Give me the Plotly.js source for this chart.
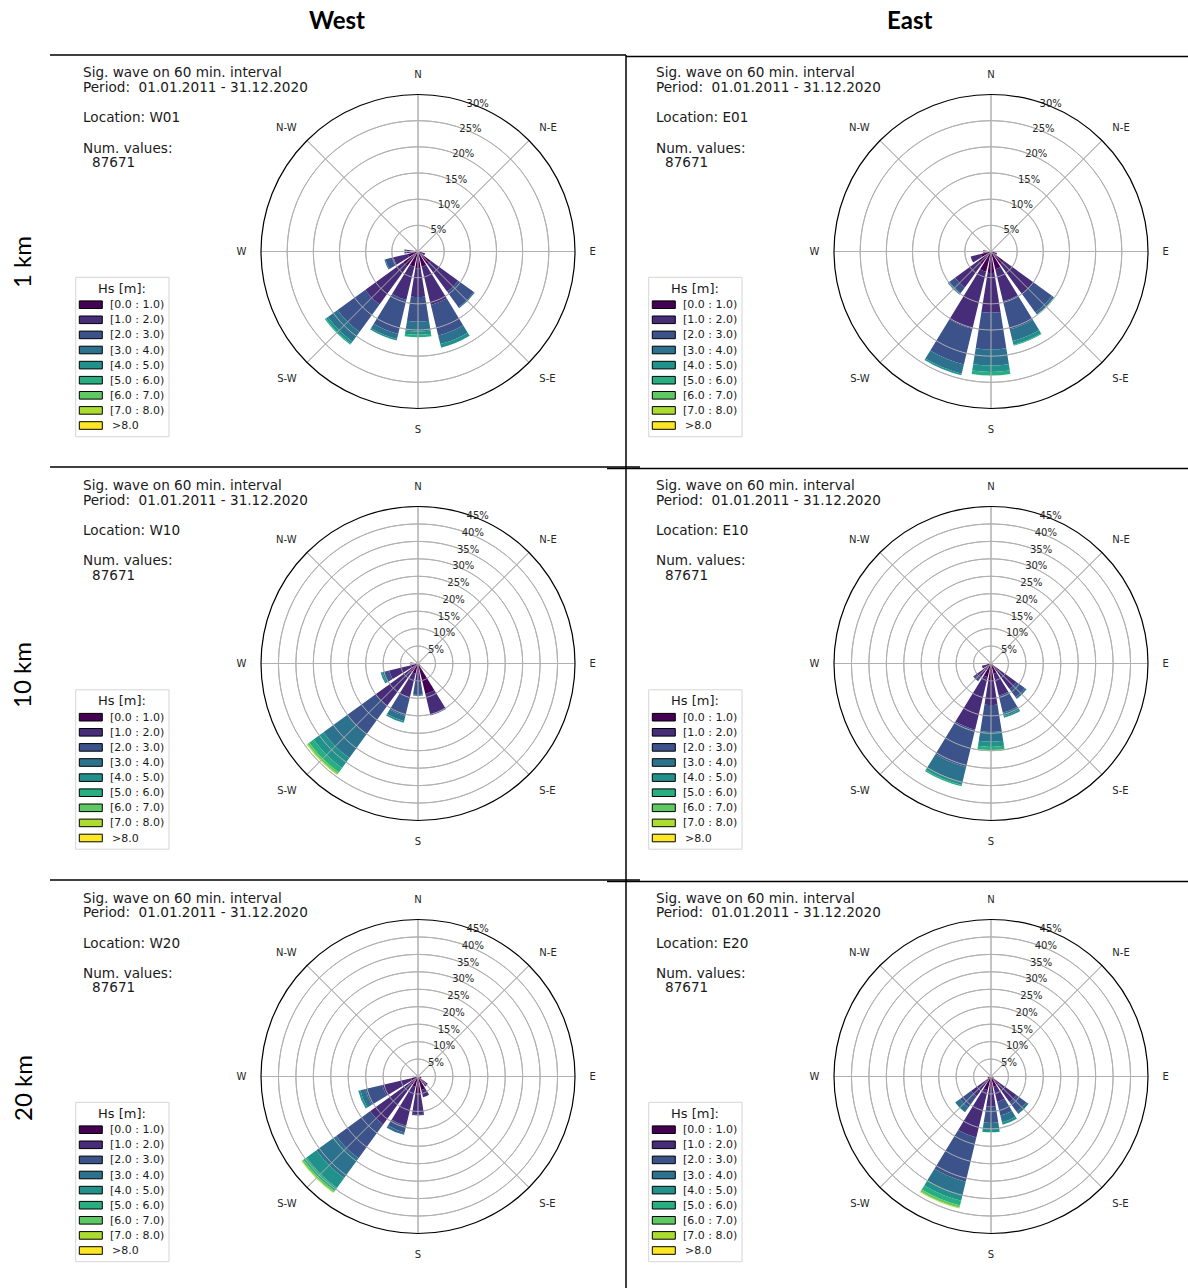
<!DOCTYPE html>
<html><head><meta charset="utf-8">
<script src="https://cdn.plot.ly/plotly-3.0.1.min.js"></script>
<style>html,body{margin:0;padding:0;background:#fff}#chart{width:1188px;height:1288px}</style>
</head><body><div id="chart"></div>
<script>
// ---------- data ----------
const sectorAngles = [0,22.5,45,67.5,90,112.5,135,157.5,180,202.5,225,247.5,270,292.5,315,337.5];
const sectorNames = ['N','NNE','NE','ENE','E','ESE','SE','SSE','S','SSW','SW','WSW','W','WNW','NW','NNW'];
const hsBins = ['[0.0 : 1.0)','[1.0 : 2.0)','[2.0 : 3.0)','[3.0 : 4.0)','[4.0 : 5.0)','[5.0 : 6.0)','[6.0 : 7.0)','[7.0 : 8.0)','>8.0'];
const hsColors = ['#440154','#472c7a','#3b528b','#2c728e','#21918c','#28ae80','#5ec962','#addc30','#fde725'];
const compassVals = [0,45,90,135,180,225,270,315];
const compassText = ['N','N-E','E','S-E','S','S-W','W','N-W'];
const columnNames = ['West','East'];
const rowNames = ['1 km','10 km','20 km'];
const locations = ['W01','E01','W10','E10','W20','E20'];
const numValues = [87671,87671,87671,87671,87671,87671];
const rMax = [30,30,45,45,45,45];
const rTicks30 = [5,10,15,20,25,30];
const rTicks45 = [5,10,15,20,25,30,35,40,45];

// cumulative frequency (%) at the top of each Hs bin, per sector (N first, clockwise)
const W01 = [[],[],[],[],[0.3],[0.8,1.4],[3.0,9.5,13.2,13.4],[3.0,10.5,16.5,18.2,18.9],[3.2,8.7,13.4,15.3,15.9,16.4],[3.0,9.5,16.2,17.2,17.5],[3.5,12.5,19.0,21.3,21.8,22.0],[2.0,4.8,6.4,6.6],[1.2,2.2,2.6],[0.5],[0.2],[0.2]];
const E01 = [[],[],[],[],[0.3],[0.8,1.2],[3.0,10.0,14.4,14.9],[3.5,9.8,15.3,17.6,18.3,18.5],[4.1,11.7,18.7,21.8,23.0,23.7],[4.0,15.2,22.2,24.0,24.3],[3.0,8.5,9.8,10.2],[2.0,4.0],[1.5],[0.3],[],[]];
const W10 = [[],[],[],[],[0.3],[0.5],[0.8],[9.0,15.0,15.3],[3.0,5.3,9.0,9.3],[3.0,10.0,15.5,17.0,17.5],[3.0,15.0,25.0,33.5,37.0,38.6,39.2,39.5],[2.0,8.5,10.0,10.5,11.0],[1.5,2.2],[0.5],[],[]];
const E10 = [[],[],[],[],[0.3],[0.5],[3.0,9.0,12.0,12.6],[3.0,9.5,14.5,15.5,16.0],[5.3,11.9,19.6,22.4,23.9,24.8,25.1],[4.0,19.5,30.5,35.0,35.8,36.2],[2.5,5.5,6.3],[1.5,2.7],[1.0],[],[],[]];
const W20 = [[],[],[],[],[0.3],[1.0],[2.5,3.5],[4.0,6.1],[5.0,10.8,11.2],[3.0,14.5,16.5,17.2],[3.0,17.0,29.0,36.0,39.5,40.6,41.1,41.3],[2.0,10.5,15.5,17.0,17.6],[1.5],[0.5],[],[]];
const E20 = [[],[],[],[],[0.3],[0.8],[3.0,9.0,12.5,13.3],[3.0,7.5,11.5,13.5,14.2],[3.0,8.6,13.3,15.0,16.0],[4.0,18.0,31.0,35.0,36.6,38.0,38.7,38.9],[2.0,7.0,11.0,12.7],[1.0],[0.8],[],[],[]];
const panelData = [W01,E01,W10,E10,W20,E20];

// ---------- layout geometry ----------
const W = 1188, H = 1288;
const colX = [418, 991];
const rowY = [251.5, 663.5, 1076.5];
const R = 157;
const colDX = [0, 573];
const rowDY = [0, 412.5, 825];
const px = x => x / W;
const py = y => 1 - y / H;
const txtFont = 'DejaVu Sans, Liberation Sans, sans-serif';
const gridCol = '#b0b0b0';

const traces = [];
const layout = {
  width: W, height: H,
  margin: {l:0, r:0, t:0, b:0},
  paper_bgcolor: '#fff',
  showlegend: false,
  font: {family: txtFont, color: '#1a1a1a'},
  annotations: [],
  shapes: []
};

function topAt(tops, b) {
  if (!tops.length) return 0;
  return b < tops.length ? tops[b] : tops[tops.length - 1];
}

panelData.forEach((data, i) => {
  const row = Math.floor(i / 2), col = i % 2;
  const key = i === 0 ? 'polar' : 'polar' + (i + 1);
  const cx = colX[col], cy = rowY[row];
  const ticks = rMax[i] === 30 ? rTicks30 : rTicks45;

  for (let b = 0; b < hsBins.length; b++) {
    const r = data.map(tops => +(topAt(tops, b) - (b ? topAt(tops, b - 1) : 0)).toFixed(3));
    traces.push({
      type: 'barpolar', subplot: key, name: hsBins[b],
      r: r, theta: sectorAngles, width: 18,
      marker: {color: hsColors[b], line: {width: 0}},
      hoverinfo: 'skip', showlegend: false
    });
  }
  // grid drawn above the bars (as in the original)
  const circTheta = [];
  for (let a = 0; a <= 360; a += 2) circTheta.push(a);
  ticks.filter(t => t < rMax[i]).forEach(t => {
    traces.push({type: 'scatterpolar', subplot: key, mode: 'lines',
      r: circTheta.map(() => t), theta: circTheta,
      line: {color: gridCol, width: 1}, hoverinfo: 'skip', showlegend: false});
  });
  const sr = [], st = [];
  compassVals.forEach(a => { sr.push(0, rMax[i], null); st.push(a, a, null); });
  traces.push({type: 'scatterpolar', subplot: key, mode: 'lines', r: sr, theta: st,
    line: {color: gridCol, width: 1}, hoverinfo: 'skip', showlegend: false, connectgaps: false});

  layout[key] = {
    domain: {x: [px(cx - R), px(cx + R)], y: [py(cy + R), py(cy - R)]},
    bgcolor: '#fff',
    barmode: 'stack', bargap: 0,
    angularaxis: {
      rotation: 90, direction: 'clockwise', thetaunit: 'degrees',
      tickmode: 'array', tickvals: compassVals, ticktext: compassText,
      showgrid: true, gridcolor: gridCol, gridwidth: 1,
      showline: true, linecolor: '#000', linewidth: 1.2,
      ticks: 'outside', ticklen: 12, tickcolor: 'rgba(0,0,0,0)',
      tickfont: {family: txtFont, size: 10, color: '#262626'}
    },
    radialaxis: {
      range: [0, rMax[i]], autorange: false,
      tickmode: 'array', tickvals: ticks, ticktext: ticks.map(t => t + '%'),
      angle: 74, tickangle: 74, side: 'clockwise',
      showline: false, ticks: '',
      showgrid: true, gridcolor: gridCol, gridwidth: 1,
      tickfont: {family: txtFont, size: 10, color: '#262626'}
    }
  };

  // text block
  const dx = colDX[col], dy = rowDY[row];
  const lines = [
    ['Sig. wave on 60 min. interval', 81, 72.5],
    ['Period:&nbsp; 01.01.2011 - 31.12.2020', 81, 87],
    ['Location: ' + locations[i], 81, 117.5],
    ['Num. values:', 81, 147.5],
    [String(numValues[i]), 90, 162.5]
  ];
  lines.forEach(([t, x, y]) => layout.annotations.push({
    xref: 'paper', yref: 'paper', x: px(x + dx), y: py(y + dy), text: t,
    showarrow: false, xanchor: 'left', yanchor: 'middle',
    font: {family: txtFont, size: 13.6, color: '#1a1a1a'}
  }));

  // legend box
  layout.shapes.push({type: 'rect', xref: 'paper', yref: 'paper',
    x0: px(75.7 + dx), x1: px(169 + dx), y0: py(277.3 + dy), y1: py(436.7 + dy),
    line: {color: '#d5d5d5', width: 1}, fillcolor: '#fff'});
  layout.annotations.push({xref: 'paper', yref: 'paper', x: px(122 + dx), y: py(288 + dy),
    text: 'Hs [m]:', showarrow: false, xanchor: 'center', yanchor: 'middle',
    font: {family: txtFont, size: 13, color: '#1a1a1a'}});
  hsBins.forEach((lab, b) => {
    const yc = 304.7 + b * 15.1 + dy;
    layout.shapes.push({type: 'rect', xref: 'paper', yref: 'paper',
      x0: px(79.3 + dx), x1: px(102.3 + dx), y0: py(yc + 3.8), y1: py(yc - 3.8),
      line: {color: '#000', width: 1}, fillcolor: hsColors[b]});
    layout.annotations.push({xref: 'paper', yref: 'paper',
      x: px((b === 8 ? 109.5 : 108) + dx), y: py(yc), text: lab,
      showarrow: false, xanchor: 'left', yanchor: 'middle',
      font: {family: txtFont, size: 11, color: '#1a1a1a'}});
  });
});

// headers
columnNames.forEach((t, c) => layout.annotations.push({xref: 'paper', yref: 'paper',
  x: px([337, 909][c]), y: py(20), text: '<b>' + t + '</b>', showarrow: false,
  xanchor: 'center', yanchor: 'middle',
  font: {family: 'Lato, Open Sans, sans-serif', size: 24, color: '#000'}}));
rowNames.forEach((t, r) => layout.annotations.push({xref: 'paper', yref: 'paper',
  x: px(22), y: py([262, 675, 1088][r]), text: t, showarrow: false, textangle: -90,
  xanchor: 'center', yanchor: 'middle',
  font: {family: 'Lato, Open Sans, sans-serif', size: 24, color: '#000'}}));

// separator lines (left and right panel rules meet slightly offset at the divider)
[55, 467, 880].forEach(y => {
  layout.shapes.push({type: 'line', xref: 'paper', yref: 'paper',
    x0: px(50), x1: px(y === 55 ? 626 : 640), y0: py(y), y1: py(y), line: {color: '#000', width: 1.5}});
  layout.shapes.push({type: 'line', xref: 'paper', yref: 'paper',
    x0: px(y === 55 ? 626 : 607), x1: px(1188), y0: py(y + 1.5), y1: py(y + 1.5), line: {color: '#000', width: 1.5}});
});
layout.shapes.push({type: 'line', xref: 'paper', yref: 'paper',
  x0: px(626), x1: px(626), y0: py(55), y1: py(1288), line: {color: '#000', width: 1.5}});

Plotly.newPlot('chart', traces, layout, {staticPlot: true, displayModeBar: false});
</script></body></html>
